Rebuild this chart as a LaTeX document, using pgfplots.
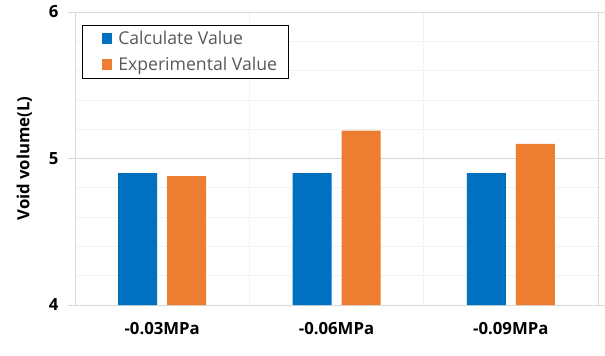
\documentclass[border=0pt]{standalone}
\usepackage{pgfplots}
\pgfplotsset{compat=1.18}
\usepackage{fontspec}
\setmainfont{Open Sans}
\usetikzlibrary{calc}
\definecolor{cblue}{HTML}{0070C0}
\definecolor{corange}{HTML}{ED7D31}
\definecolor{gridc}{HTML}{D9D9D9}
\definecolor{minorc}{HTML}{F2F2F2}
\definecolor{legtext}{HTML}{595959}
\begin{document}
\begin{tikzpicture}
\begin{axis}[
  name=ax,
  scale only axis,
  width=523bp, height=293bp,
  xmin=-0.5, xmax=2.5, ymin=4, ymax=6,
  xtick={0,1,2},
  xticklabels={-0.03MPa,-0.06MPa,-0.09MPa},
  minor xtick={0.5,1.5},
  xminorgrids,
  ytick={4,5,6},
  minor y tick num=4,
  ymajorgrids, yminorgrids,
  major grid style={draw=gridc, line width=0.8pt},
  minor grid style={draw=minorc, line width=0.8pt},
  axis line style={draw=gridc, line width=0.8pt},
  tick align=outside,
  major tick length=7bp,
  minor tick length=0pt,
  x tick style={draw=none},
  y tick style={draw=gridc, line width=0.8pt},
  /pgf/number format/assume math mode=true,
  tick label style={font=\bfseries\fontsize{16.8}{20}\selectfont, text=black},
  yticklabel style={xshift=-6bp},
  xticklabel style={yshift=-7bp},
  ylabel={Void volume(L)},
  ylabel style={font=\bfseries\fontsize{16.8}{20}\selectfont, yshift=10bp},
  ybar, bar width=39bp,
  legend style={at={(rel axis cs:0,1)}, xshift=7bp, yshift=-13bp, anchor=north west,
    draw=black, line width=0.6pt, font=\fontsize{17.7}{21}\selectfont, text=legtext,
    inner xsep=9bp, inner ysep=4bp, row sep=7bp},
  legend cell align=left,
  legend image code/.code={\path (0bp,0bp) (25bp,0bp); \fill[#1] (11bp,-5.5bp) rectangle (21bp,5.5bp);},
]
\addplot[fill=cblue, draw=none, bar shift=-24.5bp] coordinates {(0,4.90) (1,4.90) (2,4.90)};
\addplot[fill=corange, draw=none, bar shift=24.5bp] coordinates {(0,4.88) (1,5.19) (2,5.10)};
\legend{Calculate Value, Experimental Value}
\end{axis}
\pgfresetboundingbox
\useasboundingbox ($(ax.south west)+(-75bp,-51bp)$) rectangle ($(ax.north east)+(7bp,12bp)$);
\end{tikzpicture}
\end{document}
